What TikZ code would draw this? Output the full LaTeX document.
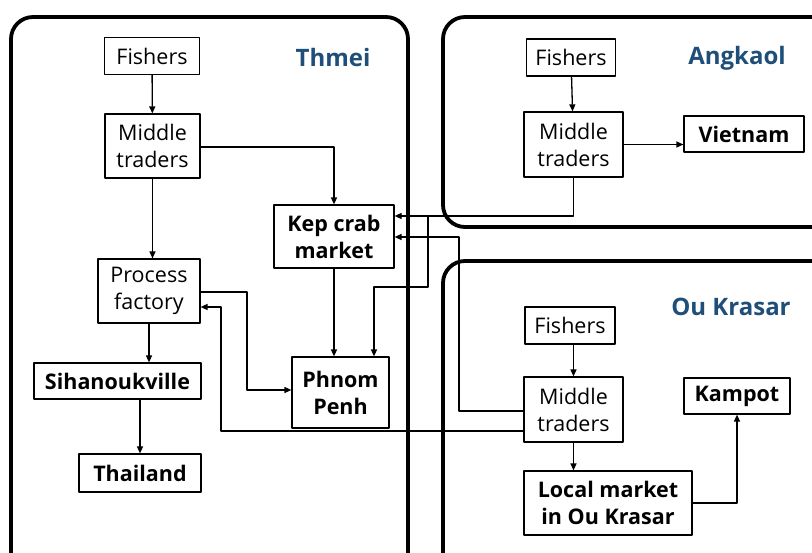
\documentclass[tikz,border=0pt]{standalone}
\usepackage{fontspec}
\setmainfont{Open Sans}
\usetikzlibrary{arrows.meta}
\definecolor{titleblue}{RGB}{31,78,121}

\begin{document}
\begin{tikzpicture}[x=1pt,y=-1pt,join=round,
    box/.style={draw,line width=1.2pt,align=center,inner sep=0pt,font=\fontsize{21.5}{27}\selectfont},
    bbox/.style={box,font=\fontsize{21.5}{27}\selectfont\bfseries},
    area/.style={line width=3.8pt,rounded corners=22pt},
    region/.style={text=titleblue,font=\fontsize{24}{28}\selectfont\bfseries},
    link/.style={line width=1.3pt,-{Triangle[length=7pt,width=6pt]}}]
    \useasboundingbox (0,0) rectangle (812,553);
    \clip (0,0) rectangle (812,553);
    % the three areas
    \draw[area] (11,17) rectangle (408,580);
    \draw[area] (443,17) rectangle (840,227);
    \draw[area] (443,261) rectangle (840,580);
    \node[region] (tThmei) at (333,58) {Thmei};
    \node[region] (tAngkaol) at (737,58) {Angkaol};
    \node[region] (tOuKrasar) at (731,307) {Ou Krasar};
    % Thmei
    \node[box,minimum width=95,minimum height=37] (thFishers) at (152,56) {Fishers};
    \node[box,minimum width=95,minimum height=64] (thTraders) at (152.5,146) {Middle\\traders};
    \node[box,minimum width=102,minimum height=64] (thFactory) at (149,291) {Process\\factory};
    \node[bbox,minimum width=167,minimum height=36] (sihanouk) at (117.5,381) {Sihanoukville};
    \node[bbox,minimum width=122,minimum height=38] (thailand) at (140,473) {Thailand};
    \node[bbox,minimum width=120,minimum height=63] (kep) at (334,236.5) {Kep crab\\market};
    \node[bbox,minimum width=97,minimum height=71] (phnom) at (340.5,392.5) {Phnom\\Penh};
    % Angkaol
    \node[box,minimum width=89,minimum height=37] (anFishers) at (571,57.5) {Fishers};
    \node[box,minimum width=99,minimum height=65] (anTraders) at (573.5,144.5) {Middle\\traders};
    \node[bbox,minimum width=120,minimum height=36] (vietnam) at (744,134) {Vietnam};
    % Ou Krasar
    \node[box,minimum width=90,minimum height=37] (ouFishers) at (570,325.5) {Fishers};
    \node[box,minimum width=99,minimum height=65] (ouTraders) at (573.5,409.5) {Middle\\traders};
    \node[bbox,minimum width=106,minimum height=36] (kampot) at (737,396) {Kampot};
    \node[bbox,minimum width=168,minimum height=64] (local) at (608,503) {Local market\\in Ou Krasar};
    % links
    \draw[link] (thFishers) -- (thTraders);
    \draw[link] (thTraders) -- (thFactory.north -| thTraders);
    \draw[link] (thTraders.east |- 0,147) -| (kep);
    \draw[link] (thFactory) -- (sihanouk.north -| thFactory);
    \draw[link] (sihanouk.south -| thailand) -- (thailand);
    \draw[link] (kep) -- (kep.south |- phnom.north);
    \draw[link] (thFactory.east |- 0,292) -- (247,292) |- (phnom.west |- 0,390);
    \draw[link] (anFishers) -- (anTraders);
    \draw[link] (anTraders) -- (vietnam.west |- anTraders);
    \draw[link] (anTraders.south) |- (kep.east |- 0,216);
    \draw[link] (428,216) |- (374,287) -- (phnom.north -| 374,0);
    \draw[link] (ouFishers.south -| ouTraders) -- (ouTraders);
    \draw[link] (ouTraders.west |- 0,411) -- (459,411) |- (kep.east |- 0,237);
    \draw[link] (ouTraders.west |- 0,431) -- (221,431) |- (thFactory.east |- 0,307);
    \draw[link] (ouTraders.south) -- (ouTraders.south |- local.north);
    \draw[link] (local) -| (kampot);
\end{tikzpicture}
\end{document}
